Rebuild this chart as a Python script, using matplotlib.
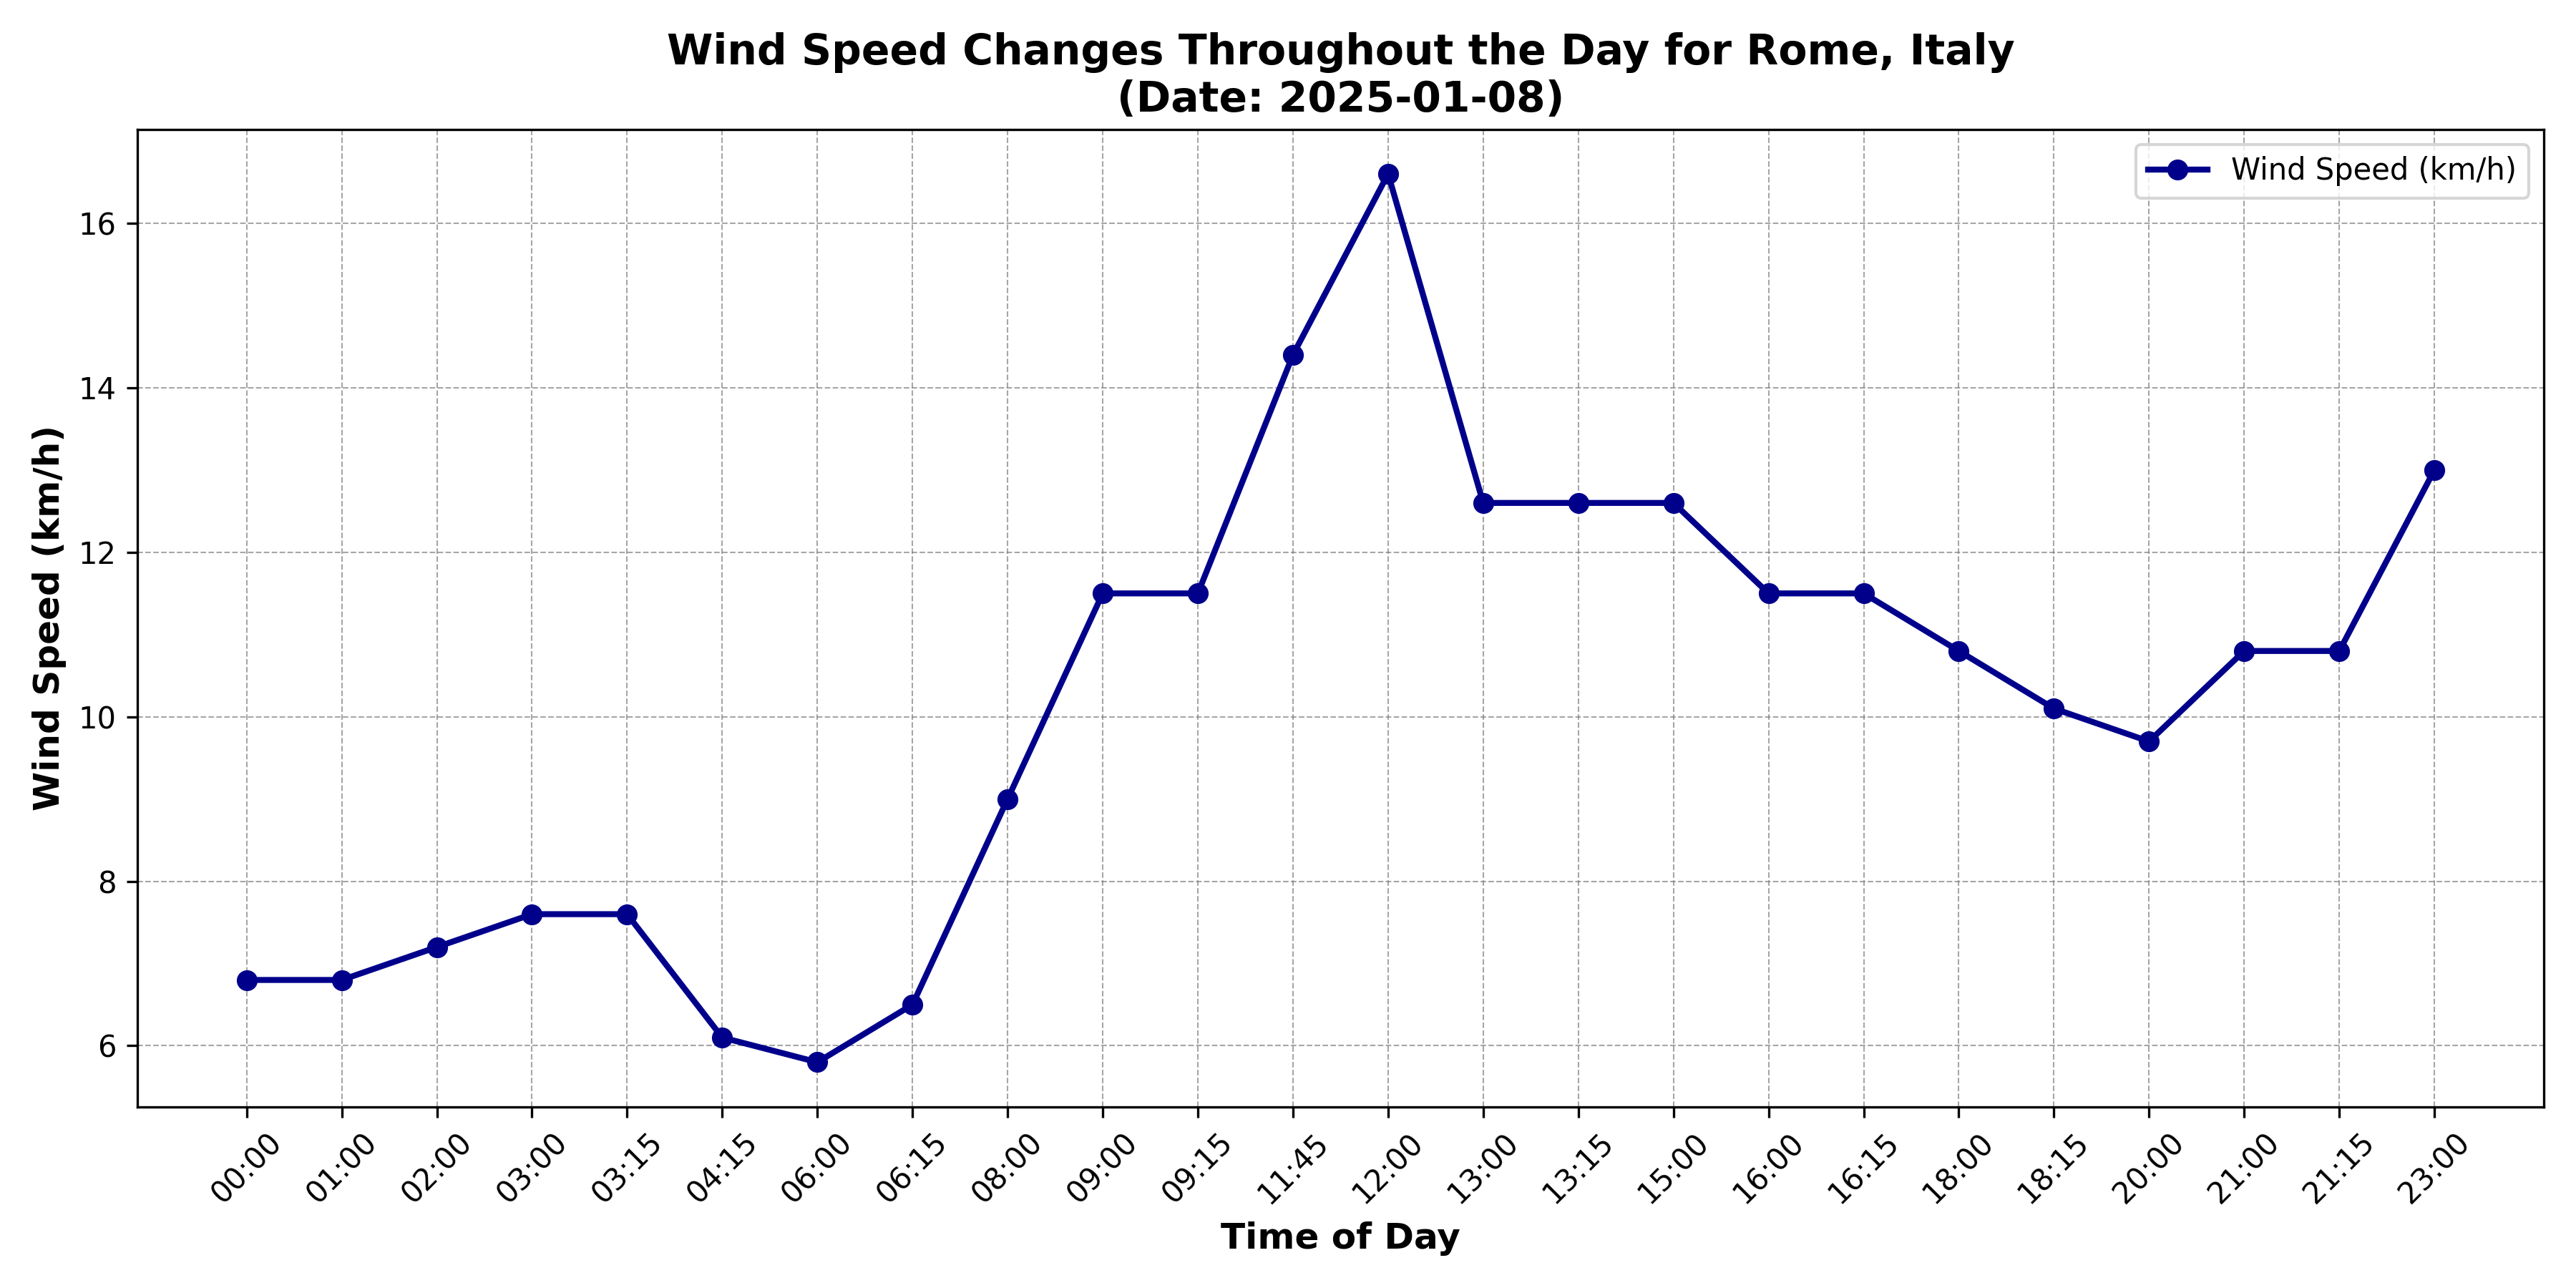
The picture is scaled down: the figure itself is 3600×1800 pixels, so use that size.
import matplotlib
matplotlib.use("Agg")
import matplotlib.pyplot as plt

times = ["00:00","01:00","02:00","03:00","03:15","04:15","06:00","06:15","08:00","09:00","09:15","11:45",
         "12:00","13:00","13:15","15:00","16:00","16:15","18:00","18:15","20:00","21:00","21:15","23:00"]
speeds = [6.8,6.8,7.2,7.6,7.6,6.1,5.8,6.5,9.0,11.5,11.5,14.4,16.6,12.6,12.6,12.6,11.5,11.5,10.8,10.1,9.7,10.8,10.8,13.0]

fig, ax = plt.subplots(figsize=(12, 6), dpi=300)
ax.plot(times, speeds, marker='o', color='darkblue', linewidth=2, label='Wind Speed (km/h)')
ax.set_title("Wind Speed Changes Throughout the Day for Rome, Italy\n(Date: 2025-01-08)", fontsize=14, fontweight='bold')
ax.set_xlabel("Time of Day", fontsize=12, fontweight='bold')
ax.set_ylabel("Wind Speed (km/h)", fontsize=12, fontweight='bold')
ax.grid(True, linestyle='--', linewidth=0.5, color='gray', alpha=0.7)
ax.legend(loc='upper right')
plt.xticks(rotation=45)
plt.tight_layout()
plt.savefig("out.png")
